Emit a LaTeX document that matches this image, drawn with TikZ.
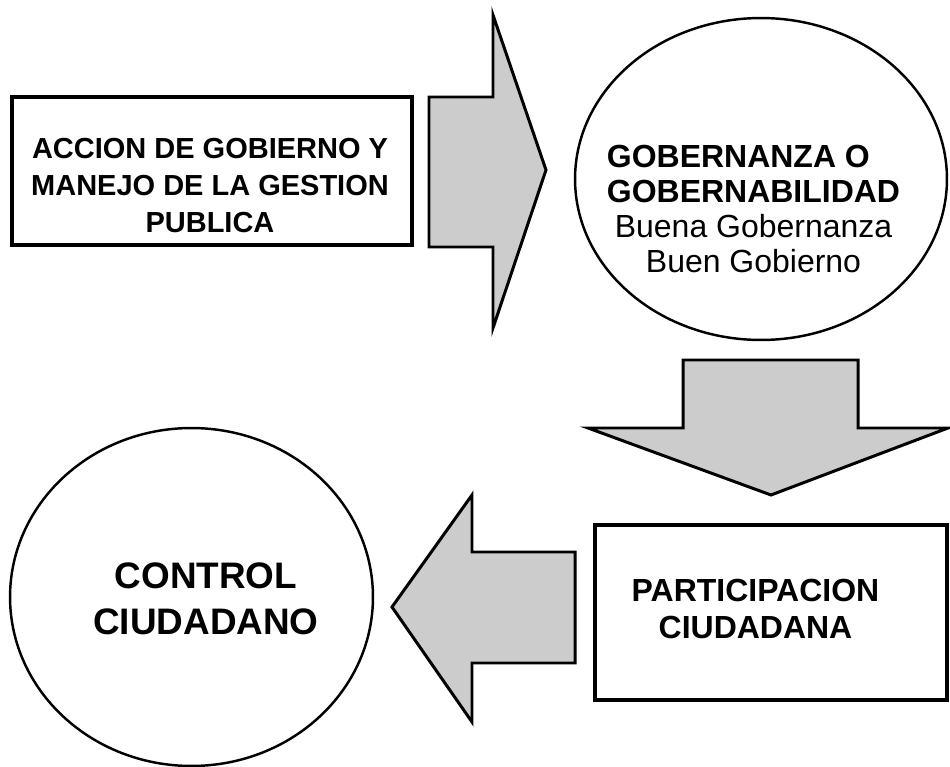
\documentclass[tikz,border=0pt]{standalone}
\usepackage{fontspec}
\setmainfont{Liberation Sans}
\usetikzlibrary{shapes.geometric}
\tikzset{
    box/.style = {rectangle, draw=black, line width=1.8pt, fill=white, inner sep=0pt},
    oval/.style = {ellipse, draw=black, line width=1.4pt, fill=white, inner sep=0pt},
    blockarrow/.style = {draw=black, line width=1.7pt, fill=gray!40, line join=miter},
    txtacc/.style = {align=center, inner sep=0pt, font=\bfseries\fontsize{16.5}{21}\selectfont},
    txtgov/.style = {align=center, inner sep=0pt, font=\fontsize{18.2}{19.9}\selectfont},
    txtpart/.style = {align=center, inner sep=0pt, font=\bfseries\fontsize{18.2}{21}\selectfont},
    txtctrl/.style = {align=center, inner sep=0pt, font=\bfseries\fontsize{21}{26.2}\selectfont}
}
\begin{document}
\begin{tikzpicture}[x=0.02cm,y=-0.02cm]
\useasboundingbox (0,0) rectangle (950,767);
%
\node[box,minimum width=8cm,minimum height=2.96cm] at (212,171) (acc) {};
\node[oval,minimum width=7.44cm,minimum height=6.44cm] at (761,179) (gov) {};
\node[box,minimum width=7.04cm,minimum height=3.5cm] at (771,612.5) (part) {};
\node[oval,minimum width=7.26cm,minimum height=6.76cm] at (191.5,597) (ctrl) {};
%
\node[txtacc] at (210,185.5) (acctxt) {ACCION DE GOBIERNO Y\\MANEJO DE LA GESTION\\PUBLICA};
\node[txtgov] at (753.5,209) (govtxt) {\textbf{\rlap{GOBERNANZA O}\phantom{GOBERNABILIDAD}}\\\textbf{GOBERNABILIDAD}\\Buena Gobernanza\\Buen Gobierno};
\node[txtpart] at (755.5,609) (parttxt) {PARTICIPACION\\CIUDADANA};
\node[txtctrl] at (206,598.5) (ctrltxt) {CONTROL\\CIUDADANO};
%
\draw[blockarrow] (429,97) -- (493,97) -- (493,15) -- (546,170) -- (493,328) -- (493,247) -- (429,247) -- cycle;
\draw[blockarrow] (683,360) -- (858,360) -- (858,428) -- (948,428) -- (771,495) -- (588,428) -- (683,428) -- cycle;
\draw[blockarrow] (575,552) -- (472,552) -- (472,495) -- (392,607) -- (472,722) -- (472,663) -- (575,663) -- cycle;

\end{tikzpicture}
\end{document}
